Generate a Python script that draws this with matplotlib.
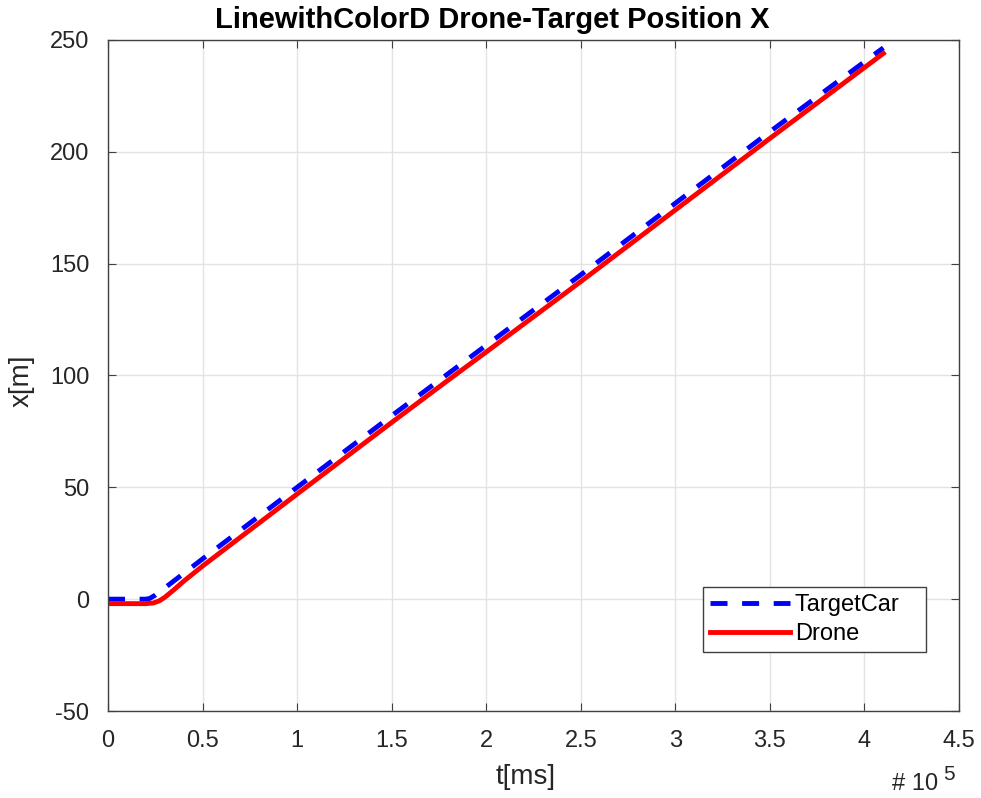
import numpy as np
import matplotlib.pyplot as plt

TITLE = "LinewithColorD Drone-Target Position X"
X_LABEL = "t[ms]"
Y_LABEL = "x[m]"

# time in units of 1e5 ms
target_t = [0.0, 0.1, 0.2, 0.22, 0.25, 0.3, 0.4, 0.5, 1.0, 1.5, 2.0, 2.5, 3.0, 3.5, 4.1]
target_x = [0.0, 0.0, 0.0, 0.3, 1.8, 5.0, 11.5, 18.0, 50.0, 82.0, 113.5, 145.0, 177.0, 209.0, 246.5]

drone_t = [0.0, 0.1, 0.2, 0.24, 0.27, 0.3, 0.35, 0.4, 0.5, 1.0, 1.5, 1.8, 2.0, 2.5, 3.0, 3.5, 4.1]
drone_x = [-2.0, -2.0, -2.0, -1.7, -0.8, 0.8, 4.3, 8.0, 14.8, 47.0, 79.0, 98.0, 110.5, 142.0, 174.0, 206.0, 244.0]

X_TICKS = ["0", "0.5", "1", "1.5", "2", "2.5", "3", "3.5", "4", "4.5"]

FONT = ["Liberation Sans", "DejaVu Sans"]
plt.rcParams["font.family"] = FONT
plt.rcParams["axes.unicode_minus"] = False

W, H = 981, 798
fig = plt.figure(figsize=(W / 100, H / 100), dpi=100)
# axes box in pixels: left 108, right 959, top 40, bottom 711
ax = fig.add_axes([108 / W, 1 - 711 / H, (959 - 108) / W, (711 - 40) / H])

ax.plot(target_t, target_x, color="#0000ff", linewidth=3.5, linestyle=(0, (3.5, 3)),
        label="TargetCar   ")
ax.plot(drone_t, drone_x, color="#ff0000", linewidth=3.5, label="Drone")

ax.set_xlim(0, 4.5)
ax.set_ylim(-50, 250)
ax.set_xticks(np.arange(0, 4.51, 0.5))
ax.set_xticklabels(X_TICKS)
ax.set_yticks(np.arange(-50, 251, 50))
ax.tick_params(direction="in", top=True, right=True, labelsize=17, length=6,
               color="#404040", labelcolor="#262626", pad=13.5)
ax.grid(True, color="#e3e3e3", linewidth=1)
for sp in ax.spines.values():
    sp.set_color("#404040")
    sp.set_linewidth(1)

ax.set_title(TITLE, fontsize=21, fontweight="bold", pad=9, x=0.451)
ax.set_xlabel(X_LABEL, fontsize=20, color="#262626", labelpad=8.5, x=0.491)
ax.set_ylabel(Y_LABEL, fontsize=20, color="#262626", labelpad=11, y=0.492)

# exponent label under the x axis
fig.text(938 / W, 1 - 790 / H, "# 10", fontsize=17, color="#262626",
         ha="right", va="baseline")
fig.text(943 / W, 1 - 780 / H, "5", fontsize=15, color="#262626",
         ha="left", va="baseline")

leg = ax.legend(loc="lower right", bbox_to_anchor=(0.961, 0.088), fontsize=17,
                frameon=True, fancybox=False, edgecolor="#404040", framealpha=1,
                handlelength=3.4, handletextpad=0.2, borderpad=0.3, labelspacing=0.27,
                borderaxespad=0)
leg.get_frame().set_linewidth(1)

fig.savefig("out.png", dpi=100)
